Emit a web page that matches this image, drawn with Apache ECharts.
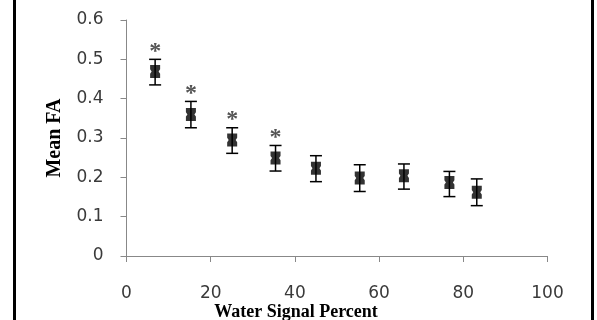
<!DOCTYPE html>
<html>
<head>
<meta charset="utf-8">
<script src="https://cdn.jsdelivr.net/npm/echarts@6/dist/echarts.min.js"></script>
<style>html,body{margin:0;padding:0;background:#fff}#c{width:597px;height:320px}</style>
</head>
<body>
<div id="c"></div>
<script>
var waterPercent = [6.8, 15.3, 25.1, 35.4, 45.0, 55.4, 65.9, 76.7, 83.2];
var meanFA      = [0.469, 0.360, 0.295, 0.249, 0.223, 0.198, 0.204, 0.187, 0.162];
var errLow      = [0.435, 0.326, 0.261, 0.216, 0.189, 0.164, 0.170, 0.151, 0.128];
var errHigh     = [0.500, 0.393, 0.326, 0.281, 0.255, 0.232, 0.234, 0.215, 0.196];
var significant = [1, 1, 1, 1, 0, 0, 0, 0, 0];
var xTicks = [0, 20, 40, 60, 80, 100];
var yTicks = [0, 0.1, 0.2, 0.3, 0.4, 0.5, 0.6];

var chart = echarts.init(document.getElementById('c'), null, {renderer: 'canvas'});
var errData = waterPercent.map(function (x, i) { return [x, errLow[i], errHigh[i], significant[i]]; });
var ptData = waterPercent.map(function (x, i) { return [x, meanFA[i]]; });

chart.setOption({
  animation: false,
  grid: {left: 126.5, right: 49.5, top: 20, bottom: 64, containLabel: false, outerBoundsMode: 'none'},
  graphic: [
    {type: 'rect', shape: {x: 13, y: 0, width: 3, height: 320}, style: {fill: '#000'}},
    {type: 'rect', shape: {x: 591, y: 0, width: 3, height: 320}, style: {fill: '#000'}}
  ],
  xAxis: {
    type: 'value', min: xTicks[0], max: xTicks[xTicks.length - 1], interval: 20,
    name: 'Water Signal Percent', nameLocation: 'middle', nameGap: 47, nameMoveOverlap: false,
    nameTextStyle: {fontFamily: 'Liberation Serif', fontWeight: 'bold', fontSize: 18, color: '#000', padding: [0, 82, 0, 0]},
    axisLine: {show: true, lineStyle: {color: '#888', width: 1}},
    axisTick: {show: true, inside: false, length: 6, lineStyle: {color: '#888'}},
    axisLabel: {margin: 29, fontFamily: 'DejaVu Sans', fontSize: 17, color: '#3a3a3a'},
    splitLine: {show: false}
  },
  yAxis: {
    type: 'value', min: yTicks[0], max: yTicks[yTicks.length - 1], interval: 0.1,
    name: 'Mean FA', nameLocation: 'middle', nameGap: 62, nameRotate: 90, nameMoveOverlap: false,
    nameTextStyle: {fontFamily: 'Liberation Serif', fontWeight: 'bold', fontSize: 20, color: '#000'},
    axisLine: {show: true, lineStyle: {color: '#888', width: 1}},
    axisTick: {show: true, inside: false, length: 6, lineStyle: {color: '#888'}},
    axisLabel: {margin: 23, fontFamily: 'DejaVu Sans', fontSize: 17, color: '#3a3a3a',
      formatter: function (v) { return String(Math.round(v * 10) / 10); }},
    splitLine: {show: false}
  },
  series: [
    {
      type: 'custom',
      data: errData,
      renderItem: function (params, api) {
        var x = api.value(0);
        var lo = api.coord([x, api.value(1)]);
        var hi = api.coord([x, api.value(2)]);
        var cw = 6;
        var style = {stroke: '#000', lineWidth: 1.5};
        var children = [
          {type: 'line', shape: {x1: lo[0], y1: lo[1], x2: hi[0], y2: hi[1]}, style: style},
          {type: 'line', shape: {x1: hi[0] - cw, y1: hi[1], x2: hi[0] + cw, y2: hi[1]}, style: style},
          {type: 'line', shape: {x1: lo[0] - cw, y1: lo[1], x2: lo[0] + cw, y2: lo[1]}, style: style}
        ];
        if (api.value(3)) {
          children.push({type: 'text', x: hi[0], y: hi[1] + 4,
            style: {text: '*', fill: '#555', font: 'bold 24px "Liberation Serif"', align: 'center', verticalAlign: 'bottom'}});
        }
        return {type: 'group', children: children};
      },
      z: 2
    },
    {
      type: 'scatter',
      data: ptData,
      symbol: 'path://M0,0 L10,0 L10,4 L8.5,6 L10,8 L10,12 L0,12 L0,8 L1.5,6 L0,4 Z',
      symbolSize: [10, 13],
      itemStyle: {color: '#000'},
      z: 3
    }
  ]
});
</script>
</body>
</html>
